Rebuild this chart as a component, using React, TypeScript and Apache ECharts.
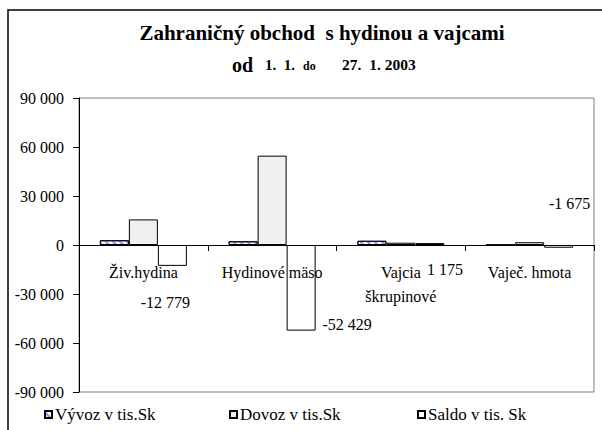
import React, { useEffect, useRef } from 'react';
import * as echarts from 'echarts';

const FONT = 'Liberation Serif';

const titleText = 'Zahraničný obchod  s hydinou a vajcami';
const subtitleParts = ['od', '1.  1.', 'do', '27.  1. 2003'];
const categories = ['Živ.hydina', 'Hydinové mäso', 'Vajcia\nškrupinové', 'Vaječ. hmota'];
const seriesNames = ['Vývoz v tis.Sk', 'Dovoz v tis.Sk', 'Saldo v tis. Sk'];
const vyvoz = [2900, 2270, 2575, 30];
const dovoz = [15679, 54699, 1400, 1705];
const saldo = [-12779, -52429, 1175, -1675];
const yMin = -90000;
const yMax = 90000;
const yStep = 30000;

const fmt = (v: number) => {
  const s = Math.abs(Math.round(v)).toString().replace(/\B(?=(\d{3})+(?!\d))/g, ' ');
  return (v < 0 ? '-' : '') + s;
};

// label placement for the saldo data labels (style only)
const saldoLabelPlace: { position: string; offset: [number, number] }[] = [
  { position: 'bottom', offset: [-7, 24] },
  { position: 'bottom', offset: [46, -19] },
  { position: 'bottom', offset: [15, 11] },
  { position: 'top', offset: [11, -29] },
];

// subtitle piece styles: [x, bottom y, font size]
const subtitleStyle: [number, number, number][] = [
  [232, 74.5, 20],
  [265, 72.5, 15],
  [303, 71.5, 12],
  [342, 72.5, 15.5],
];

const barBase = {
  type: 'bar' as const,
  barWidth: 29,
  barGap: '0%',
};

const legendCommon = {
  orient: 'horizontal',
  itemWidth: 7,
  itemHeight: 7,
  icon: 'rect',
  selectedMode: false,
  padding: 0,
  itemGap: 0,
  top: 406,
  textStyle: { fontFamily: FONT, fontSize: 17, color: '#000', padding: [0, 0, 0, -2] },
};

export default function App() {
  const ref = useRef<HTMLDivElement>(null);
  useEffect(() => {
    const chart = echarts.init(ref.current!, null, { renderer: 'svg' });
    const option: any = {
      animation: false,
      backgroundColor: '#fff',
      textStyle: { fontFamily: FONT },
      graphic: [
        {
          type: 'rect',
          shape: { x: 8, y: 10, width: 700, height: 500 },
          style: { fill: 'none', stroke: '#000', lineWidth: 1.5 },
          silent: true,
        },
        {
          type: 'text',
          x: 322,
          y: 33,
          style: {
            text: titleText,
            fontFamily: FONT,
            fontSize: 21,
            fontWeight: 'bold',
            fill: '#000',
            textAlign: 'center',
            textVerticalAlign: 'middle',
          },
        },
        ...subtitleParts.map((t, i) => ({
          type: 'text',
          x: subtitleStyle[i][0],
          y: subtitleStyle[i][1],
          style: {
            text: t,
            fontFamily: FONT,
            fontSize: subtitleStyle[i][2],
            fontWeight: 'bold',
            fill: '#000',
            textAlign: 'left',
            textVerticalAlign: 'bottom',
          },
        })),
      ],
      legend: [
        { ...legendCommon, data: [seriesNames[0]], left: 44 },
        { ...legendCommon, data: [seriesNames[1]], left: 229 },
        { ...legendCommon, data: [seriesNames[2]], left: 417 },
      ],
      grid: {
        left: 79,
        top: 98,
        width: 515,
        height: 294,
        show: true,
        borderColor: '#808080',
        borderWidth: 1,
        backgroundColor: 'transparent',
        containLabel: false,
        outerBoundsMode: 'none',
      },
      xAxis: {
        type: 'category',
        data: categories,
        z: 5,
        axisLine: { show: true, onZero: true, lineStyle: { color: '#000', width: 1 } },
        axisTick: { show: true, interval: 0, length: 6, lineStyle: { color: '#000' } },
        axisLabel: {
          interval: 0,
          margin: -132,
          color: '#000',
          fontFamily: FONT,
          fontSize: 16,
          lineHeight: 24,
        },
        splitLine: { show: false },
      },
      yAxis: {
        type: 'value',
        min: yMin,
        max: yMax,
        interval: yStep,
        axisLine: { show: true, lineStyle: { color: '#000', width: 1 } },
        axisTick: { show: true, length: 6, lineStyle: { color: '#000' } },
        axisLabel: {
          margin: 15,
          color: '#000',
          fontFamily: FONT,
          fontSize: 16,
          formatter: (v: number) => fmt(v),
        },
        splitLine: { show: false },
      },
      series: [
        {
          ...barBase,
          name: seriesNames[0],
          data: vyvoz,
          itemStyle: {
            color: '#ffffff',
            borderColor: '#000',
            borderWidth: 1,
            decal: {
              symbol: 'rect',
              symbolSize: 1,
              color: '#8c8cff',
              dashArrayX: [1, 0],
              dashArrayY: [1.2, 3],
              rotation: Math.PI / 4,
            },
          },
        },
        {
          ...barBase,
          name: seriesNames[1],
          data: dovoz,
          itemStyle: { color: '#f0f0f0', borderColor: '#000', borderWidth: 1 },
        },
        {
          ...barBase,
          name: seriesNames[2],
          data: saldo.map((v, i) => ({
            value: v,
            label: {
              show: true,
              position: saldoLabelPlace[i].position,
              offset: saldoLabelPlace[i].offset,
            },
          })),
          itemStyle: { color: '#ffffff', borderColor: '#000', borderWidth: 1 },
          label: {
            show: true,
            color: '#000',
            fontFamily: FONT,
            fontSize: 16,
            distance: 5,
            formatter: (p: any) => fmt(p.value),
          },
        },
      ],
    };
    chart.setOption(option);
    return () => chart.dispose();
  }, []);
  return (
    <div
      ref={ref}
      style={{ position: 'fixed', left: 0, top: 0, width: 602, height: 430, background: '#fff' }}
    />
  );
}
